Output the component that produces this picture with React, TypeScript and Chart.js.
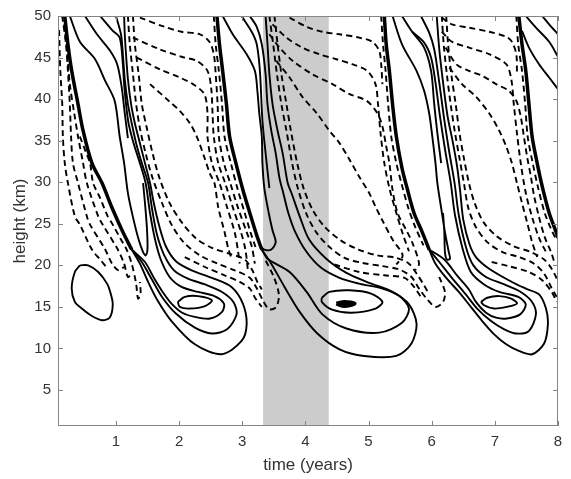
import React, { useEffect, useRef } from "react";
import { Chart, registerables } from "chart.js";
Chart.register(...registerables);

type Pt = [number, number];

const xTicks = [1, 2, 3, 4, 5, 6, 7, 8];
const yTicks = [5, 10, 15, 20, 25, 30, 35, 40, 45, 50];
const xMin = 0.083, xMax = 8, yMin = 0.67, yMax = 50;
const shadeFrom = 3.33, shadeTo = 4.37;
const xTitle = "time (years)";
const yTitle = "height (km)";

// ---------- fronts (dense zero-crossing bands) ----------
const front1: Pt[] = [[0.19,50],[0.24,46.6],[0.30,43.4],[0.40,39.4],[0.48,36.2],[0.62,32.3],[0.78,29.9],[0.94,26.9],[1.11,24.0],[1.25,21.9]];
const front2: Pt[] = [[2.60,50],[2.64,46.6],[2.69,43.4],[2.75,39.4],[2.80,35.5],[2.90,32.3],[3.01,29.1],[3.12,26.3],[3.23,23.6],[3.31,21.9]];
const front3: Pt[] = [[5.25,50],[5.28,46.6],[5.33,43.4],[5.38,39.4],[5.44,35.5],[5.53,31.7],[5.61,29.3],[5.72,26.3],[5.85,24.0],[5.96,21.9]];
const front4: Pt[] = [[7.38,50],[7.43,46.6],[7.49,43.4],[7.54,39.4],[7.59,35.5],[7.67,32.3],[7.75,29.5],[7.86,26.3],[7.97,24.0],[8.0,23.3]];

// ---------- solid (positive) contours ----------
const leftBlob: Pt[] = [[0.43,20.0],[0.35,19.2],[0.30,17.2],[0.35,15.6],[0.46,14.8],[0.62,13.9],[0.78,13.4],[0.90,13.7],[0.95,15.3],[0.91,16.8],[0.86,17.8],[0.72,19.2],[0.56,20.0],[0.43,20.0]];
const c1Outer: Pt[] = [[1.25,21.9],[1.38,20.2],[1.51,18.0],[1.65,15.9],[1.88,13.3],[2.25,10.5],[2.67,9.3],[2.99,10.9],[3.07,12.9],[3.01,15.4],[2.83,17.4],[2.52,18.5],[2.20,19.4],[1.95,20.5],[1.79,22.3],[1.68,24.9],[1.60,27.5],[1.54,29.9],[1.46,32.3],[1.38,34.7],[1.30,37.1],[1.24,39.4],[1.19,42.4],[1.16,45.4],[1.14,47.8],[1.13,50]];
const c1Mid: Pt[] = [[1.25,21.9],[1.41,20.4],[1.57,18.3],[1.73,16.2],[1.95,14.2],[2.25,12.5],[2.52,11.8],[2.76,12.3],[2.91,14.1],[2.86,15.6],[2.68,16.8],[2.41,17.7],[2.14,18.4],[1.92,19.4],[1.76,21.3],[1.65,23.7],[1.57,26.9],[1.51,29.9],[1.41,32.3],[1.32,34.7],[1.25,37.1],[1.19,39.4],[1.14,42.4],[1.11,45.4],[1.08,47.8],[1.00,50]];
const c1Inner: Pt[] = [[1.25,21.9],[1.46,20.4],[1.60,18.5],[1.74,16.8],[1.88,15.4],[2.05,14.3],[2.25,13.8],[2.49,13.6],[2.68,14.4],[2.71,15.4],[2.56,16.3],[2.30,16.8],[2.04,17.4],[1.85,18.6],[1.71,20.7],[1.62,23.1],[1.54,26.3],[1.47,29.9],[1.38,32.3],[1.28,34.7],[1.20,37.1],[1.16,39.4],[1.13,41.8],[1.11,44.2],[1.06,47.4],[0.94,48.3],[0.75,50]];
const c1Core: Pt[] = [[1.98,15.6],[2.09,16.2],[2.30,16.3],[2.52,15.8],[2.41,15.1],[2.17,14.8],[2.01,15.0],[1.98,15.6]];
const c1Tongue: Pt[] = [[0.27,50],[0.43,46.9],[0.67,44.8],[0.83,42.2],[0.98,39.8],[1.06,35.5],[1.13,32.3],[1.19,28.7],[1.27,25.8],[1.36,23.1],[1.43,21.6],[1.47,21.2],[1.50,22.0],[1.49,24.6],[1.46,27.5],[1.43,29.9]];
const c1Upper: Pt[] = [[0.51,50],[0.70,47.8],[0.91,45.8],[1.02,44.2],[1.09,41.5],[1.14,38.3],[1.19,35.3]];

const c2Outer: Pt[] = [[3.31,21.9],[3.46,20.2],[3.67,17.4],[3.91,14.4],[4.19,11.8],[4.54,9.9],[4.93,9.1],[5.44,9.1],[5.68,10.6],[5.76,13.0],[5.64,15.3],[5.38,16.8],[5.01,17.9],[4.65,19.1],[4.33,20.8],[4.06,23.1],[3.91,25.9],[3.78,28.7],[3.72,29.9],[3.64,33.5],[3.56,36.2],[3.48,39.4],[3.43,43.0],[3.40,46.6],[3.37,50]];
const c2Mid: Pt[] = [[3.31,21.9],[3.40,20.8],[3.75,19.2],[4.02,16.8],[4.27,14.1],[4.65,12.4],[5.17,11.9],[5.53,13.1],[5.64,14.8],[5.49,16.3],[5.22,17.2],[4.85,17.8],[4.54,18.5],[4.25,19.7],[4.02,21.6],[3.84,24.0],[3.73,26.3],[3.65,28.7],[3.59,30.5],[3.53,33.5],[3.46,36.2],[3.40,39.4],[3.37,43.0],[3.31,46.6],[3.23,48.7],[3.12,50]];
const c2Inner: Pt[] = [[4.26,16.1],[4.38,16.8],[4.70,17.0],[5.04,16.6],[5.22,15.6],[5.11,14.8],[4.73,14.3],[4.41,14.7],[4.26,15.6],[4.26,16.1]];
const c2Core: Pt[] = [[4.49,15.4],[4.62,15.6],[4.78,15.4],[4.62,15.1],[4.49,15.4]];
const c2Tongue: Pt[] = [[2.69,50],[2.85,47.8],[3.07,45.4],[3.20,43.4],[3.24,41.0],[3.27,38.3],[3.31,35.5],[3.32,32.3],[3.35,29.3],[3.42,26.3],[3.48,24.2],[3.53,22.8],[3.46,21.9],[3.35,21.9],[3.27,22.4]];
const c2Upper: Pt[] = [[2.99,50],[3.15,48.1],[3.23,46.6],[3.28,43.4],[3.32,37.4],[3.37,33.5],[3.43,29.3]];

const c3Outer: Pt[] = [[5.96,21.9],[6.06,20.2],[6.24,18.4],[6.43,16.8],[6.62,15.0],[6.80,13.3],[6.99,11.7],[7.18,10.5],[7.38,9.7],[7.59,9.3],[7.78,10.6],[7.84,12.9],[7.81,14.8],[7.70,16.5],[7.49,17.2],[7.27,18.0],[6.91,19.6],[6.70,21.0],[6.60,22.5],[6.50,25.5],[6.45,29.0],[6.40,32.0],[6.33,35.0],[6.25,38.0],[6.18,42.0],[6.12,46.0],[6.08,50]];
const c3Mid: Pt[] = [[5.96,21.9],[6.12,20.4],[6.32,18.5],[6.53,16.6],[6.72,14.8],[6.94,13.3],[7.15,12.3],[7.34,11.8],[7.54,12.1],[7.65,14.1],[7.59,15.6],[7.41,16.8],[7.15,17.7],[6.86,18.6],[6.66,20.0],[6.55,22.0],[6.43,26.0],[6.36,30.0],[6.27,34.0],[6.19,38.0],[6.12,42.0],[6.04,46.0],[5.96,48.0],[5.83,50]];
const c3Inner: Pt[] = [[5.96,21.9],[6.20,20.7],[6.40,18.8],[6.59,17.1],[6.70,15.6],[6.86,14.3],[7.02,13.7],[7.19,13.6],[7.40,14.1],[7.49,15.3],[7.37,16.2],[7.07,16.8],[6.83,17.7],[6.62,19.2],[6.49,22.0],[6.37,26.0],[6.30,30.0],[6.21,34.0],[6.13,38.0],[6.06,42.0],[5.99,45.0],[5.88,46.8],[5.69,48.1]];
const c3Core: Pt[] = [[6.78,15.6],[6.88,16.1],[7.07,16.3],[7.26,16.0],[7.35,15.4],[7.19,15.0],[6.99,14.8],[6.83,15.2],[6.78,15.6]];
const c3Tongue: Pt[] = [[5.38,50],[5.53,46.6],[5.76,43.4],[5.88,41.0],[5.96,38.3],[6.01,35.5],[6.06,32.3],[6.09,29.9],[6.15,26.9],[6.21,24.0],[6.27,21.6],[6.29,20.8],[6.24,20.7],[6.21,21.6],[6.20,24.0],[6.18,26.3]];
const c3Upper: Pt[] = [[5.53,50],[5.69,48.1],[5.88,46.2],[5.99,43.4],[6.04,39.4],[6.09,35.9],[6.15,32.3]];

const c4A: Pt[] = [[7.49,50],[7.65,48.6],[7.86,46.9],[8.0,45.1]];
const c4B: Pt[] = [[7.75,50],[7.86,49.0],[8.0,47.8]];
const c4C: Pt[] = [[7.43,48.2],[7.54,46.2],[7.70,44.2],[7.86,42.6],[8.0,41.2]];

// ---------- dashed (negative) contours ----------
const n1A: Pt[] = [[0.10,48.3],[0.12,43.4],[0.15,39.4],[0.16,35.5],[0.19,32.3],[0.24,29.9],[0.35,25.9],[0.43,24.9],[0.62,21.9],[0.75,20.7],[0.87,19.6]];
const n1B: Pt[] = [[0.15,50],[0.21,46.6],[0.24,43.4],[0.27,39.4],[0.29,35.5],[0.32,32.3],[0.40,29.9],[0.54,25.9],[0.59,24.9],[0.83,21.9],[0.94,20.2],[1.04,19.4],[1.13,19.8]];
const n1C: Pt[] = [[0.18,49.0],[0.23,45.4],[0.27,41.8],[0.34,38.3],[0.40,35.5],[0.48,32.3],[0.54,29.9],[0.72,25.9],[0.79,24.9],[1.03,21.9],[1.13,20.2],[1.19,18.6],[1.25,19.0]];
const n1D: Pt[] = [[0.43,35.5],[0.53,33.5],[0.59,32.3],[0.64,29.9],[0.75,28.1],[0.87,25.9],[0.95,24.9],[1.08,23.1],[1.17,21.9],[1.25,20.2],[1.32,17.8],[1.35,16.0],[1.39,16.6],[1.38,18.0]];

const n2A: Pt[] = [[1.19,50],[1.22,46.6],[1.27,43.0],[1.32,39.4],[1.38,36.5],[1.47,33.5],[1.58,30.5],[1.73,27.5],[1.88,24.9],[2.07,22.8],[2.33,21.2],[2.61,20.2],[2.88,19.4],[3.12,18.5],[3.24,17.1],[3.34,15.6],[3.43,14.7],[3.54,15.0],[3.58,16.5],[3.50,18.6],[3.37,20.6]];
const n2B: Pt[] = [[1.27,50],[1.30,46.6],[1.36,43.0],[1.41,39.4],[1.49,36.5],[1.58,33.5],[1.69,30.5],[1.85,27.5],[2.04,25.2],[2.26,23.3],[2.52,22.1],[2.80,21.4],[3.04,20.7],[3.16,19.4],[3.24,18.0],[3.31,17.1]];
const n2C: Pt[] = [[2.09,21.0],[2.41,19.8],[2.72,18.8],[2.96,18.0],[3.12,17.2],[3.21,16.0],[3.31,15.0]];
const n2D: Pt[] = [[1.38,49.8],[1.77,48.7],[2.04,48.1],[2.33,47.8],[2.48,46.9],[2.55,45.4],[2.58,43.0],[2.61,39.4],[2.63,35.5],[2.71,32.3],[2.81,29.9],[2.93,27.0],[3.07,24.0],[3.15,22.3],[3.20,20.2]];
const n2E: Pt[] = [[1.27,47.4],[1.69,46.0],[2.04,45.1],[2.28,44.6],[2.45,43.4],[2.51,41.2],[2.53,38.3],[2.55,35.5],[2.62,32.3],[2.73,29.9],[2.85,27.0],[2.98,24.0],[3.05,21.9],[3.09,19.4]];
const n2F: Pt[] = [[1.33,45.0],[1.69,43.6],[2.01,42.6],[2.22,41.8],[2.40,40.6],[2.45,38.3],[2.45,35.5],[2.52,32.3],[2.64,29.9],[2.76,27.0],[2.88,24.0],[2.93,21.9],[2.96,20.2]];
const n2G: Pt[] = [[1.54,41.8],[1.85,39.7],[2.01,38.6],[2.17,37.1],[2.28,35.5],[2.40,33.0],[2.49,31.0],[2.56,29.9],[2.62,27.0],[2.72,24.0],[2.78,22.0],[2.83,20.8]];
const n2H: Pt[] = [[2.55,50],[2.58,46.6],[2.63,43.4],[2.68,39.4],[2.72,35.5],[2.82,32.3],[2.93,29.1],[3.04,26.3],[3.13,24.0],[3.21,22.2]];

const n3A: Pt[] = [[3.43,50],[3.49,46.6],[3.55,43.0],[3.62,39.4],[3.70,36.2],[3.79,32.3],[3.88,29.3],[4.01,26.3],[4.17,24.0],[4.38,22.2],[4.62,20.9],[4.90,20.3],[5.22,19.9],[5.49,19.5],[5.68,18.6],[5.80,17.2],[5.93,15.9],[6.06,15.0],[6.18,15.6],[6.21,16.8],[6.12,18.6]];
const n3B: Pt[] = [[3.51,50],[3.56,46.6],[3.62,43.0],[3.70,39.4],[3.77,36.2],[3.87,32.3],[3.97,29.3],[4.12,26.6],[4.31,24.6],[4.56,23.0],[4.84,21.9],[5.14,21.2],[5.44,20.9],[5.64,20.2],[5.77,18.9],[5.88,17.6],[5.96,16.5]];
const n3C: Pt[] = [[4.46,20.1],[4.85,19.2],[5.25,18.8],[5.57,18.5],[5.72,17.4],[5.83,16.2]];
const n3D: Pt[] = [[3.75,49.8],[4.02,48.7],[4.27,48.1],[4.54,47.8],[4.85,47.4],[5.06,46.9],[5.17,45.8],[5.20,44.2],[5.22,41.8]];
const n3E: Pt[] = [[3.48,49.0],[3.70,47.4],[3.95,46.2],[4.22,45.4],[4.49,44.8],[4.74,44.2],[4.98,43.4],[5.11,41.8],[5.15,39.4],[5.19,35.9],[5.25,32.3],[5.33,29.3],[5.44,26.3],[5.55,23.6],[5.64,21.7]];
const n3F: Pt[] = [[3.43,47.8],[3.59,46.2],[3.80,44.6],[4.11,43.0],[4.43,41.8],[4.70,40.6],[4.97,39.8],[5.14,38.3],[5.22,36.7],[5.28,34.3],[5.33,32.3],[5.38,29.1],[5.46,26.3],[5.60,24.2],[5.69,22.8],[5.80,20.2],[5.74,19.4]];
const n3G: Pt[] = [[3.54,44.6],[3.75,42.6],[3.95,40.3],[4.18,38.3],[4.38,36.2],[4.54,34.7],[4.70,32.7],[4.85,30.7],[5.01,28.7],[5.12,26.9],[5.22,25.4],[5.38,23.1],[5.54,21.2],[5.44,20.1]];
const n3H: Pt[] = [[5.20,50],[5.23,46.6],[5.27,43.4],[5.31,39.4],[5.36,35.5],[5.44,32.3],[5.52,29.9],[5.63,26.9],[5.74,24.6],[5.87,22.4]];

const n4A: Pt[] = [[6.16,50],[6.19,46.6],[6.24,43.0],[6.30,39.4],[6.37,35.9],[6.44,32.9],[6.51,29.9],[6.58,26.9],[6.70,24.6],[6.88,22.8],[7.12,21.6],[7.38,21.0],[7.62,20.2],[7.78,19.0],[7.89,17.4],[7.98,16.2]];
const n4B: Pt[] = [[6.23,50],[6.26,46.6],[6.31,43.0],[6.38,39.4],[6.44,35.9],[6.51,32.9],[6.59,29.9],[6.68,27.5],[6.82,25.2],[7.03,23.5],[7.30,22.3],[7.57,21.6],[7.78,20.7],[7.90,19.6],[7.98,18.4]];
const n4C: Pt[] = [[6.95,20.4],[7.22,19.9],[7.54,19.2],[7.75,18.2],[7.90,16.8],[7.98,15.6]];
const n4D: Pt[] = [[6.16,49.8],[6.32,49.0],[6.59,48.6],[6.91,48.1],[7.18,47.5],[7.27,46.9],[7.34,45.4],[7.35,43.0]];
const n4E: Pt[] = [[6.16,48.1],[6.32,46.9],[6.59,46.2],[6.91,45.4],[7.18,44.2],[7.26,42.4],[7.30,39.4],[7.35,35.9],[7.41,32.3],[7.49,28.7],[7.59,25.8],[7.70,23.3],[7.81,21.6]];
const n4F: Pt[] = [[6.22,46.2],[6.39,44.2],[6.59,43.4],[6.80,42.8],[7.02,41.8],[7.22,41.0],[7.34,39.8],[7.41,37.9],[7.46,35.5],[7.51,33.1],[7.57,30.7],[7.62,28.4],[7.70,25.8],[7.79,23.4],[7.89,21.6],[7.95,20.2]];
const n4G: Pt[] = [[6.28,43.8],[6.48,41.8],[6.70,40.3],[6.91,38.3],[7.07,36.2],[7.18,34.3],[7.27,32.3],[7.35,29.9],[7.43,27.5],[7.51,25.2],[7.59,22.8],[7.67,21.0]];
const n4H: Pt[] = [[7.34,50],[7.37,46.6],[7.43,43.4],[7.48,39.4],[7.52,35.5],[7.60,32.3],[7.68,29.5],[7.79,26.3],[7.90,24.2],[7.98,23.0]];

const frontLines = [front1, front2, front3, front4];
const solidLines = [leftBlob, c1Outer, c1Mid, c1Inner, c1Core, c1Tongue, c1Upper,
  c2Outer, c2Mid, c2Inner, c2Tongue, c2Upper,
  c3Outer, c3Mid, c3Inner, c3Core, c3Tongue, c3Upper, c4A, c4B, c4C];
const coreLines = [c2Core];
const dashedLines = [n1A, n1B, n1C, n1D, n2A, n2B, n2C, n2D, n2E, n2F, n2G, n2H,
  n3A, n3B, n3C, n3D, n3E, n3F, n3G, n3H, n4A, n4B, n4C, n4D, n4E, n4F, n4G, n4H];

const FONT = "'Liberation Sans', Arial, Helvetica, sans-serif";

export default function App() {
  const ref = useRef<HTMLCanvasElement | null>(null);
  useEffect(() => {
    document.body.style.margin = "0";
    const canvas = ref.current;
    if (!canvas) return;
    const mk = (a: Pt[], width: number, dash: number[]) => ({
      data: a.map(([x, y]) => ({ x, y })),
      showLine: true,
      pointRadius: 0,
      pointHoverRadius: 0,
      borderColor: "#000000",
      borderWidth: width,
      borderDash: dash,
      tension: 0.3,
      fill: false,
    });
    const datasets = [
      ...dashedLines.map((a) => mk(a, 1.9, [6, 4])),
      ...solidLines.map((a) => mk(a, 1.9, [])),
      ...frontLines.map((a) => mk(a, 3.5, [])),
      ...coreLines.map((a) => mk(a, 4, [])),
    ];
    const deco = {
      id: "deco",
      beforeDatasetsDraw(chart: any) {
        const { ctx, chartArea, scales } = chart;
        const x0 = scales.x.getPixelForValue(shadeFrom);
        const x1 = scales.x.getPixelForValue(shadeTo);
        ctx.save();
        ctx.fillStyle = "#cccccc";
        ctx.fillRect(x0, chartArea.top, x1 - x0, chartArea.bottom - chartArea.top);
        ctx.restore();
      },
      afterDraw(chart: any) {
        const { ctx, chartArea: a, scales } = chart;
        ctx.save();
        ctx.strokeStyle = "#858585";
        ctx.lineWidth = 1;
        ctx.strokeRect(a.left + 0.5, a.top + 0.5, a.right - a.left - 1, a.bottom - a.top - 1);
        ctx.beginPath();
        xTicks.forEach((v) => {
          const p = Math.round(scales.x.getPixelForValue(v)) + 0.5;
          ctx.moveTo(p, a.bottom); ctx.lineTo(p, a.bottom - 5);
          ctx.moveTo(p, a.top); ctx.lineTo(p, a.top + 5);
        });
        yTicks.forEach((v) => {
          const p = Math.round(scales.y.getPixelForValue(v)) + 0.5;
          ctx.moveTo(a.left, p); ctx.lineTo(a.left + 5, p);
          ctx.moveTo(a.right, p); ctx.lineTo(a.right - 5, p);
        });
        ctx.stroke();
        ctx.fillStyle = "#333333";
        ctx.font = `17px ${FONT}`;
        ctx.textAlign = "center";
        ctx.textBaseline = "middle";
        ctx.fillText(xTitle, (a.left + a.right) / 2, 465);
        ctx.translate(20, (a.top + a.bottom) / 2);
        ctx.rotate(-Math.PI / 2);
        ctx.fillText(yTitle, 0, 0);
        ctx.restore();
      },
    };
    const tickFont = { family: FONT, size: 15 };
    const chart = new Chart(canvas, {
      type: "scatter",
      data: { datasets: datasets as any },
      options: {
        animation: false,
        responsive: false,
        devicePixelRatio: 1,
        layout: { padding: { left: 0, right: 13, top: 12, bottom: 0 } },
        plugins: { legend: { display: false }, tooltip: { enabled: false } },
        events: [],
        scales: {
          x: {
            type: "linear",
            min: xMin,
            max: xMax,
            afterBuildTicks: (s: any) => { s.ticks = xTicks.map((v) => ({ value: v })); },
            afterFit: (s: any) => { s.height = 53; },
            grid: { display: false, drawTicks: false, tickLength: 0 },
            border: { display: false },
            ticks: { padding: 7, color: "#333333", font: tickFont, maxRotation: 0, autoSkip: false, callback: (v: any) => String(v) },
          },
          y: {
            type: "linear",
            min: yMin,
            max: yMax,
            afterBuildTicks: (s: any) => { s.ticks = yTicks.map((v) => ({ value: v })); },
            afterFit: (s: any) => { s.width = 58; },
            grid: { display: false, drawTicks: false, tickLength: 0 },
            border: { display: false },
            ticks: { padding: 7, color: "#333333", font: tickFont, autoSkip: false, callback: (v: any) => String(v) },
          },
        },
      } as any,
      plugins: [deco],
    });
    return () => chart.destroy();
  }, []);
  return (
    <div style={{ position: "absolute", left: 0, top: 0 }}>
      <canvas ref={ref} width={571} height={479} style={{ display: "block", width: 571, height: 479 }} />
    </div>
  );
}
